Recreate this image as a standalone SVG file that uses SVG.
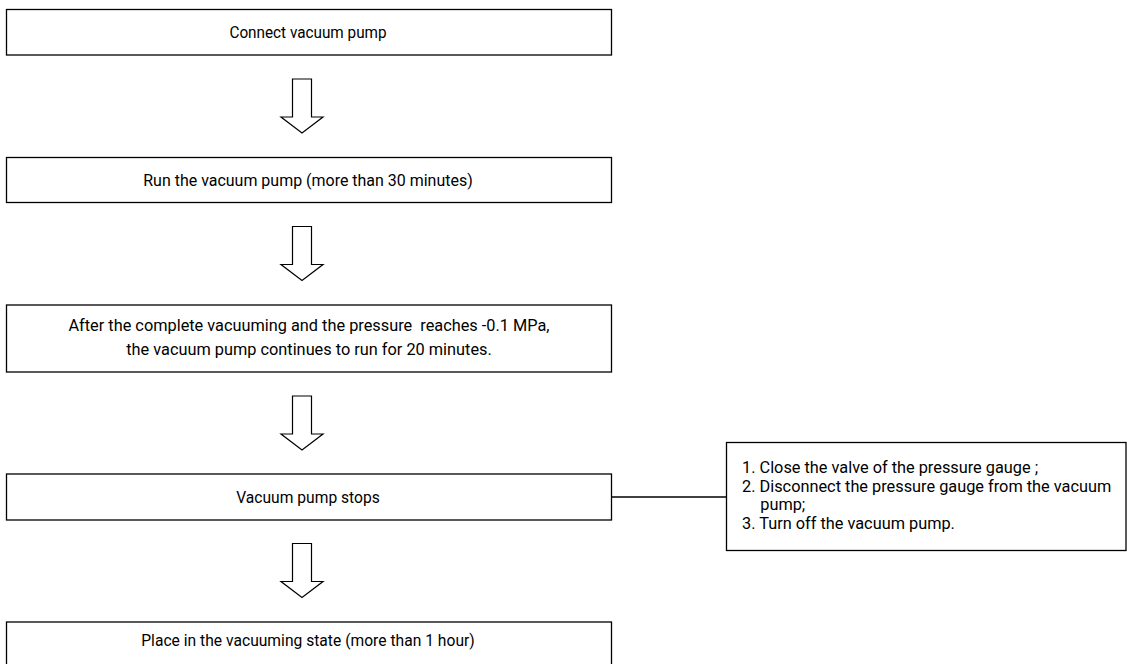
<svg xmlns="http://www.w3.org/2000/svg" width="1127" height="664" viewBox="0 0 1127 664">
<style>
.box{fill:#fff;stroke:#000;stroke-width:1.3}
.t{font-family:Roboto,"Liberation Sans",sans-serif;font-size:17px;fill:#000}
.c{text-anchor:middle}
.arr{fill:#fff;stroke:#000;stroke-width:1.2;stroke-linejoin:miter}
.ln{fill:none;stroke:#000;stroke-width:1.3}
</style>
<defs>
<path id="bigArrow" class="arr" d="M-9.5,0 H9.5 V38 H21 L0,54 L-21,38 H-9.5 Z"/>
</defs>
<rect width="1127" height="664" fill="#fff"/>
<g id="n1"><rect class="box" x="6.5" y="9.5" width="605" height="45.5"/><text class="t c" transform="translate(308,0) scale(0.9,1)" x="0" y="38.5">Connect vacuum pump</text></g>
<g id="n2"><rect class="box" x="6.5" y="157.5" width="605" height="45"/><text class="t c" transform="translate(308,0) scale(0.94,1)" x="0" y="186">Run the vacuum pump (more than 30 minutes)</text></g>
<g id="n3"><rect class="box" x="6.5" y="305" width="605" height="67"/><text class="t c" transform="translate(309,0) scale(0.96,1)" x="0" y="331.5" xml:space="preserve">After the complete vacuuming and the pressure  reaches -0.1 MPa,</text><text class="t c" transform="translate(309,0) scale(0.96,1)" x="0" y="355.5">the vacuum pump continues to run for 20 minutes.</text></g>
<g id="n4"><rect class="box" x="6.5" y="474" width="605" height="46"/><text class="t c" transform="translate(308,0) scale(0.92,1)" x="0" y="503">Vacuum pump stops</text></g>
<g id="n5"><rect class="box" x="6.5" y="622" width="605" height="45"/><text class="t c" transform="translate(308,0) scale(0.92,1)" x="0" y="646">Place in the vacuuming state (more than 1 hour)</text></g>
<g id="note"><rect class="box" x="726.5" y="442.5" width="399.5" height="108"/>
<g transform="translate(742,0) scale(0.96,1)">
<text class="t" x="0" y="473">1. Close the valve of the pressure gauge ;</text>
<text class="t" x="0" y="492">2. Disconnect the pressure gauge from the vacuum</text>
<text class="t" x="19" y="510.5">pump;</text>
<text class="t" x="0" y="529">3. Turn off the vacuum pump.</text>
</g>
</g>
<g id="connectors">
<use href="#bigArrow" x="302" y="79"/>
<use href="#bigArrow" x="302" y="226.5"/>
<use href="#bigArrow" x="302" y="396"/>
<use href="#bigArrow" x="302" y="543.5"/>
<line class="ln" x1="611.5" y1="497" x2="726.5" y2="497"/>
</g>
</svg>
